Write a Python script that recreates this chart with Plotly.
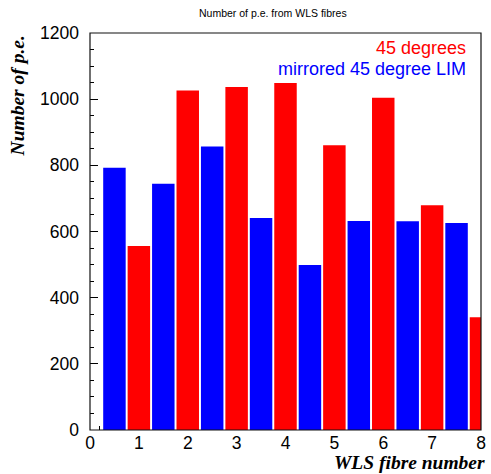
import plotly.graph_objects as go

# Data
blue_x = [0.5, 1.5, 2.5, 3.5, 4.5, 5.5, 6.5, 7.5]
blue_y = [793, 744, 857, 641, 499, 632, 631, 626]
red_x = [1, 2, 3, 4, 5, 6, 7, 8]
red_y = [556, 1026, 1037, 1049, 861, 1004, 679, 341]

title_text = "Number of p.e. from WLS fibres"
red_label = "45 degrees"
blue_label = "mirrored 45 degree LIM"
x_title = "WLS fibre number"
y_title = "Number of p.e."

W, H = 491, 474
L, R, T, B = 90, 5, 33, 44
pw = W - L - R
ph = H - T - B

def px2x(px):
    return (px - L) / pw

def py2y(py):
    return (H - B - py) / ph

fig = go.Figure()
fig.add_trace(go.Bar(x=blue_x, y=blue_y, width=0.46, marker=dict(color="#0000ff", line=dict(width=0)), name=blue_label))
fig.add_trace(go.Bar(x=red_x, y=red_y, width=0.46, marker=dict(color="#ff0000", line=dict(width=0)), name=red_label))

tickfont = dict(family="Liberation Sans, Arial, sans-serif", size=17.5, color="#000")
fig.update_layout(
    width=W, height=H,
    margin=dict(l=L, r=R, t=T, b=B, pad=0),
    paper_bgcolor="white", plot_bgcolor="white",
    showlegend=False,
    barmode="overlay",
    xaxis=dict(range=[0, 8], dtick=1, tick0=0, ticks="inside", ticklen=8, tickwidth=1, tickcolor="#000",
               minor=dict(dtick=0.2, tick0=0, ticks="inside", ticklen=4, tickcolor="#000", tickwidth=1),
               showgrid=False, zeroline=False, showline=False, tickfont=tickfont, layer="below traces",
               fixedrange=True),
    yaxis=dict(range=[0, 1200], dtick=200, tick0=0, ticks="inside", ticklen=8, tickwidth=1, tickcolor="#000",
               minor=dict(dtick=50, tick0=0, ticks="inside", ticklen=4, tickcolor="#000", tickwidth=1),
               showgrid=False, zeroline=False, showline=False, tickfont=tickfont, layer="below traces",
               ticklabelstandoff=10, fixedrange=True),
)

# frame
fig.add_shape(type="rect", xref="paper", yref="paper", x0=0, x1=1, y0=0, y1=1,
              line=dict(color="#111", width=1.2), fillcolor="rgba(0,0,0,0)", layer="above")

ann = dict(xref="paper", yref="paper", showarrow=False, borderpad=0, borderwidth=0)
fig.add_annotation(text=title_text, x=px2x(275), y=py2y(13),
                   xanchor="center", yanchor="middle",
                   font=dict(family="Liberation Sans, Arial, sans-serif", size=10.5, color="#000"), **ann)
fig.add_annotation(text=red_label, x=px2x(471), y=py2y(48),
                   xanchor="right", yanchor="middle",
                   font=dict(family="Liberation Sans, Arial, sans-serif", size=18, color="#ff0000"), **ann)
fig.add_annotation(text=blue_label, x=px2x(471), y=py2y(69),
                   xanchor="right", yanchor="middle",
                   font=dict(family="Liberation Sans, Arial, sans-serif", size=18, color="#0000ff"), **ann)
fig.add_annotation(text="<b><i>" + x_title + "</i></b>", x=px2x(490), y=py2y(462),
                   xanchor="right", yanchor="middle",
                   font=dict(family="Liberation Serif, Times New Roman, serif", size=19.5, color="#000"), **ann)
fig.add_annotation(text="<b><i>" + y_title + "</i></b>", x=px2x(17), y=py2y(35),
                   xanchor="center", yanchor="top", textangle=-90,
                   font=dict(family="Liberation Serif, Times New Roman, serif", size=19.5, color="#000"), **ann)

fig.write_html("out.html")
